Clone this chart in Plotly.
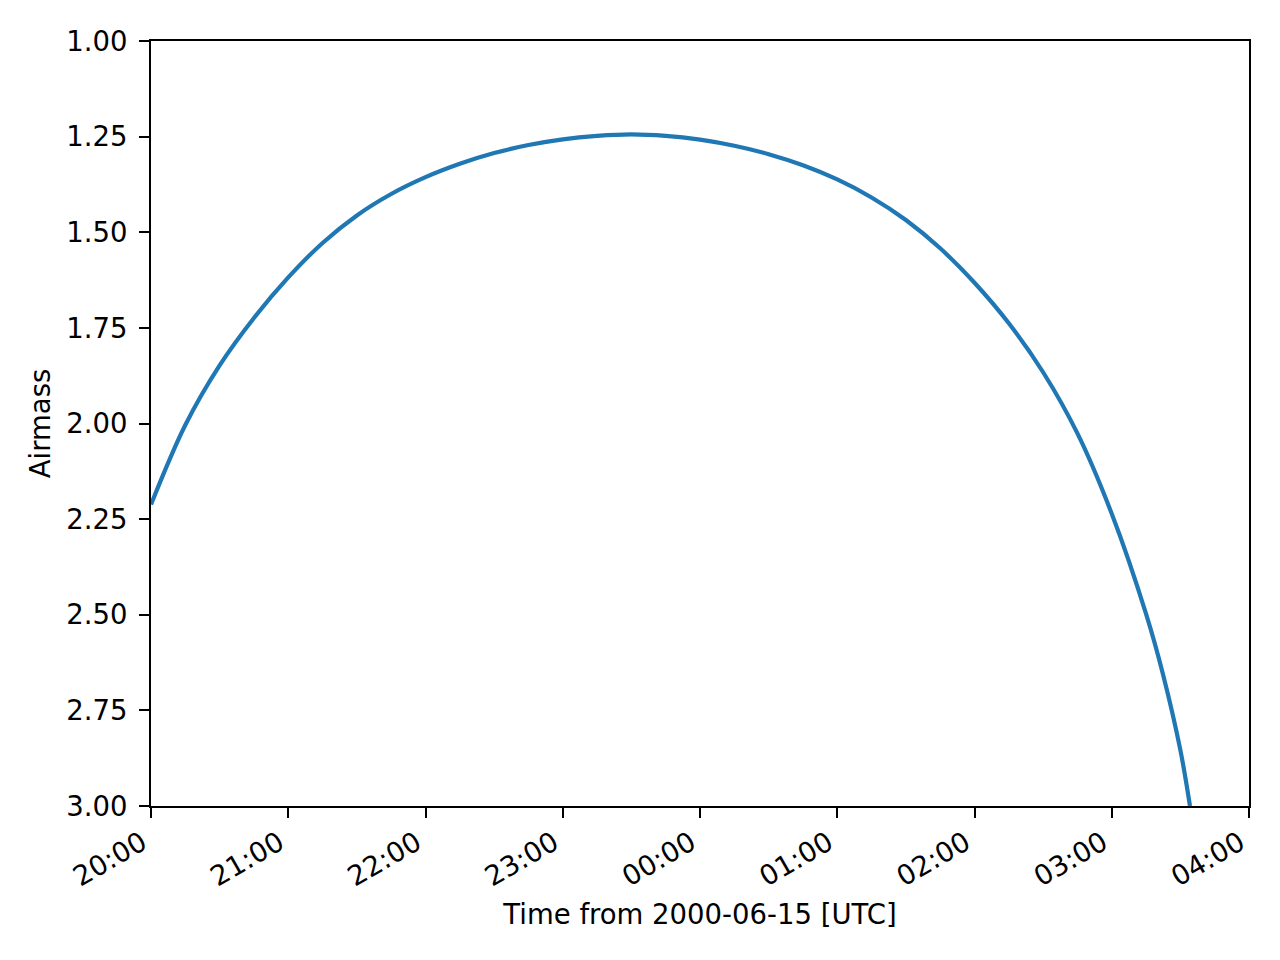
import plotly.graph_objects as go

# Data
times = [
    "2000-06-15 20:00:00", "2000-06-15 20:15:00", "2000-06-15 20:30:00", "2000-06-15 20:45:00",
    "2000-06-15 21:00:00", "2000-06-15 21:15:00", "2000-06-15 21:30:00", "2000-06-15 21:45:00",
    "2000-06-15 22:00:00", "2000-06-15 22:15:00", "2000-06-15 22:30:00", "2000-06-15 22:45:00",
    "2000-06-15 23:00:00", "2000-06-15 23:15:00", "2000-06-15 23:30:00", "2000-06-15 23:45:00",
    "2000-06-16 00:00:00", "2000-06-16 00:15:00", "2000-06-16 00:30:00", "2000-06-16 00:45:00",
    "2000-06-16 01:00:00", "2000-06-16 01:15:00", "2000-06-16 01:30:00", "2000-06-16 01:45:00",
    "2000-06-16 02:00:00", "2000-06-16 02:15:00", "2000-06-16 02:30:00", "2000-06-16 02:45:00",
    "2000-06-16 03:00:00", "2000-06-16 03:15:00", "2000-06-16 03:22:30", "2000-06-16 03:30:00",
    "2000-06-16 03:34:12",
]
airmass = [
    2.212, 2.004, 1.848, 1.724,
    1.618, 1.528, 1.456, 1.400,
    1.356, 1.321, 1.293, 1.272,
    1.257, 1.248, 1.244, 1.248,
    1.258, 1.274, 1.296, 1.325,
    1.362, 1.409, 1.468, 1.542,
    1.632, 1.738, 1.866, 2.026,
    2.236, 2.498, 2.658, 2.854,
    3.000,
]

x_range = ["2000-06-15 20:00", "2000-06-16 04:00"]
y_range = [3.0, 1.0]
x_title = "Time from 2000-06-15 [UTC]"
y_title = "Airmass"

FONT = "DejaVu Sans"
FS = 27.5

fig = go.Figure()
fig.add_trace(go.Scatter(
    x=times, y=airmass, mode="lines",
    line=dict(color="#1f77b4", width=4.2, shape="spline", smoothing=1.0),
    showlegend=False, cliponaxis=True,
))

axis_common = dict(
    showgrid=False, zeroline=False, automargin=False,
    showline=True, linecolor="black", linewidth=2.2, mirror=True,
    ticks="outside", ticklen=10, tickwidth=2.2, tickcolor="black",
    tickfont=dict(family=FONT, size=FS, color="black"),
)

# the page body adds an 8px offset, so margins are shifted accordingly
fig.update_layout(
    width=1280, height=960,
    margin=dict(l=143, r=39, t=33, b=162),
    paper_bgcolor="white", plot_bgcolor="white",
    font=dict(family=FONT, size=FS, color="black"),
    xaxis=dict(
        type="date", range=x_range, dtick=3600000, tickformat="%H:%M",
        tickangle=-30, ticklabelstandoff=-2, ticklabelshift=-9,
        title=dict(text=x_title, font=dict(family=FONT, size=FS), standoff=14),
        **axis_common,
    ),
    yaxis=dict(
        range=y_range, dtick=0.25, tick0=1.0, tickformat=".2f",
        ticklabelstandoff=6,
        title=dict(text=y_title, font=dict(family=FONT, size=FS), standoff=8),
        **axis_common,
    ),
)

fig.write_html("out.html")
